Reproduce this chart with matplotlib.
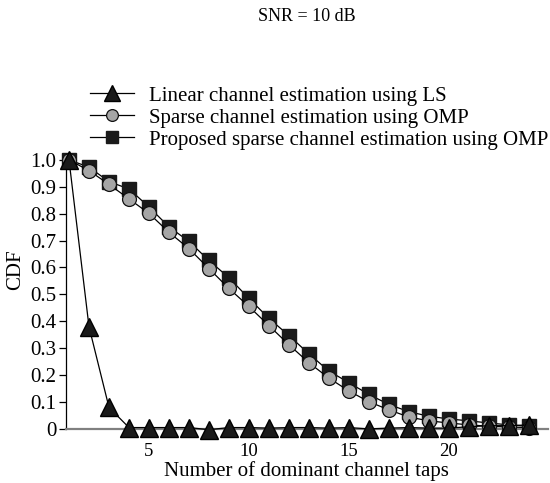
import numpy as np
import matplotlib.pyplot as plt

# number of dominant taps on the x axis
taps = np.arange(1, 25)

# CDF of the number of dominant taps for each estimator
cdf_ls = [1.0, 0.38, 0.08, 0.005, 0.005, 0.005, 0.005, -0.003, 0.005, 0.005,
          0.003, 0.005, 0.005, 0.003, 0.005, 0.0, 0.003, 0.005, 0.003, 0.003,
          0.008, 0.012, 0.012, 0.015]
cdf_omp = [1.0, 0.96, 0.909, 0.855, 0.801, 0.731, 0.670, 0.596, 0.522, 0.455,
           0.384, 0.313, 0.246, 0.189, 0.141, 0.101, 0.071, 0.044, 0.030, 0.022,
           0.015, 0.010, 0.007, 0.005]
cdf_prop = [1.0, 0.973, 0.919, 0.892, 0.825, 0.751, 0.697, 0.626, 0.562, 0.485,
            0.411, 0.347, 0.279, 0.215, 0.172, 0.128, 0.091, 0.064, 0.047, 0.037,
            0.030, 0.022, 0.015, 0.010]

labels = ["Linear channel estimation using LS",
          "Sparse channel estimation using OMP",
          "Proposed sparse channel estimation using OMP"]

plt.rcParams['font.family'] = ['Liberation Serif', 'DejaVu Serif']

fig = plt.figure(figsize=(5.5, 4.83), dpi=100)
ax = fig.add_axes([0.12, 0.112, 0.876, 0.557])

ax.plot(taps, cdf_ls, color='black', lw=0.9, marker='^', ms=13,
        mfc='#1a1a1a', mec='black', clip_on=False, zorder=4, label=labels[0])
ax.plot(taps, cdf_omp, color='black', lw=0.9, marker='o', ms=10,
        mfc='#a6a6a6', mec='#111111', mew=0.9, clip_on=False, zorder=3, label=labels[1])
ax.plot(taps, cdf_prop, color='black', lw=0.9, marker='s', ms=9.5,
        mfc='#1a1a1a', mec='#1a1a1a', clip_on=False, zorder=2, label=labels[2])

ax.set_xlim(0.85, 24.95)
ax.set_ylim(0, 1.0)
ax.set_xticks([5, 10, 15, 20])
ax.set_yticks(np.arange(0, 1.01, 0.1))
ax.set_yticklabels(['0'] + ['%.1f' % v for v in np.arange(0.1, 1.01, 0.1)])

for side in ['top', 'right']:
    ax.spines[side].set_visible(False)
ax.spines['left'].set_linewidth(0.9)
ax.spines['bottom'].set_color('#808080')
ax.spines['bottom'].set_linewidth(1.6)
ax.tick_params(axis='both', direction='out', length=5, width=0.9,
               labelsize=15, pad=2, color='black')
ax.tick_params(axis='x', labelsize=13.5, pad=5)

ax.set_xlabel('Number of dominant channel taps', fontsize=15, labelpad=1)
ax.set_ylabel('CDF', fontsize=15)
ax.yaxis.set_label_coords(-0.085, 0.59)

fig.text(0.557, 0.966, 'SNR = 10 dB', ha='center', va='center', fontsize=13)

ax.legend(loc='upper left', bbox_to_anchor=(0.164, 0.822),
          bbox_transform=fig.transFigure, frameon=False, fontsize=15,
          handlelength=2.1, handletextpad=0.7, labelspacing=0.12,
          borderpad=0, borderaxespad=0, markerscale=0.85)

fig.savefig('out.png', dpi=100)
